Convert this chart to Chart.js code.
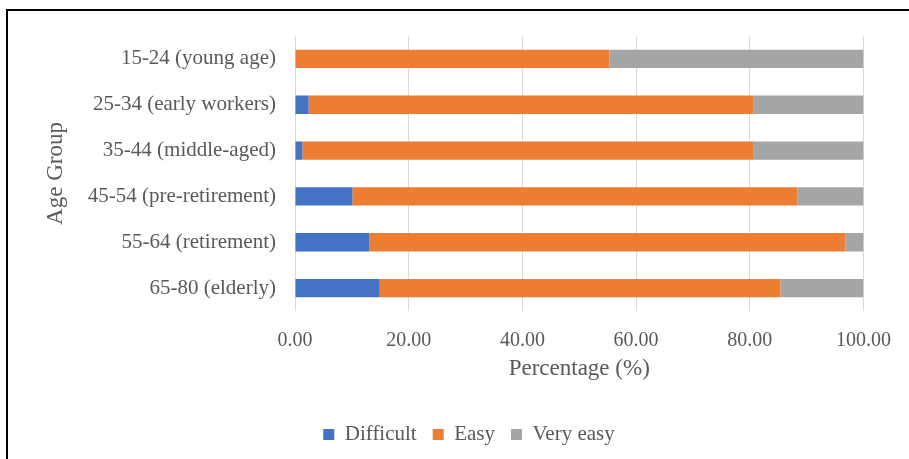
<!DOCTYPE html>
<html>
<head>
<meta charset="utf-8">
<script src="https://cdn.jsdelivr.net/npm/chart.js@4.4.1/dist/chart.umd.min.js"></script>
<style>
    html, body { margin: 0; padding: 0; background: #fff; }
    #wrap { position: relative; width: 909px; height: 459px; overflow: hidden; }
    #frame {
        position: absolute; left: 6px; top: 9px; width: 920px; height: 470px;
        border-left: 2px solid #000; border-top: 2px solid #000;
    }
    canvas { position: absolute; left: 0; top: 0; }
</style>
</head>
<body>
<div id="wrap">
    <div id="frame"></div>
    <canvas id="chart" width="909" height="459"></canvas>
</div>
<script>
// Chart data
const ageGroups = [
    '15-24 (young age)',
    '25-34 (early workers)',
    '35-44 (middle-aged)',
    '45-54 (pre-retirement)',
    '55-64 (retirement)',
    '65-80 (elderly)'
];
const difficult = [0, 2.4, 1.3, 10.1, 13.1, 14.9];
const easy = [55.3, 78.3, 79.4, 78.3, 83.7, 70.5];
const veryEasy = [44.7, 19.3, 19.3, 11.6, 3.2, 14.6];

const textColor = '#595959';
const serif = "'Liberation Serif', 'Times New Roman', serif";

// legend sits centred under the plot area, not under the whole canvas
const legendShift = {
    id: 'legendShift',
    beforeDraw(chart) {
        const lg = chart.legend;
        if (!lg || lg._shifted) return;
        lg.left += 22;
        lg.right += 22;
        lg._shifted = true;
    }
};

const ctx = document.getElementById('chart').getContext('2d');

new Chart(ctx, {
    type: 'bar',
    data: {
        labels: ageGroups,
        datasets: [
            { label: 'Difficult', data: difficult, backgroundColor: '#4472c4' },
            { label: 'Easy', data: easy, backgroundColor: '#ed7d31' },
            { label: 'Very easy', data: veryEasy, backgroundColor: '#a5a5a5' }
        ]
    },
    options: {
        indexAxis: 'y',
        responsive: false,
        animation: false,
        barPercentage: 0.4,
        categoryPercentage: 1,
        layout: { padding: { left: 28, right: 43, top: 36, bottom: 4 } },
        scales: {
            x: {
                stacked: true,
                min: 0,
                max: 100,
                border: { display: false },
                grid: { color: '#d9d9d9', drawTicks: false },
                ticks: {
                    stepSize: 20,
                    padding: 18,
                    color: textColor,
                    font: { family: serif, size: 20 },
                    callback: v => v.toFixed(2)
                },
                title: {
                    display: true,
                    text: 'Percentage (%)',
                    color: textColor,
                    font: { family: serif, size: 23 },
                    padding: { top: 2, bottom: 25 }
                },
                afterFit: s => { s.height = 97; }
            },
            y: {
                stacked: true,
                border: { display: false },
                grid: { display: false, drawTicks: false },
                ticks: {
                    padding: 19,
                    color: textColor,
                    font: { family: serif, size: 21 }
                },
                title: {
                    display: true,
                    text: 'Age Group',
                    color: textColor,
                    font: { family: serif, size: 23 },
                    padding: { top: 14, bottom: 0 }
                },
                afterFit: s => { s.width = 267; }
            }
        },
        plugins: {
            legend: {
                position: 'bottom',
                labels: {
                    boxWidth: 11,
                    boxHeight: 11,
                    padding: 16,
                    color: textColor,
                    font: { family: serif, size: 21 }
                }
            },
            tooltip: { enabled: false }
        }
    },
    plugins: [legendShift]
});
</script>
</body>
</html>
